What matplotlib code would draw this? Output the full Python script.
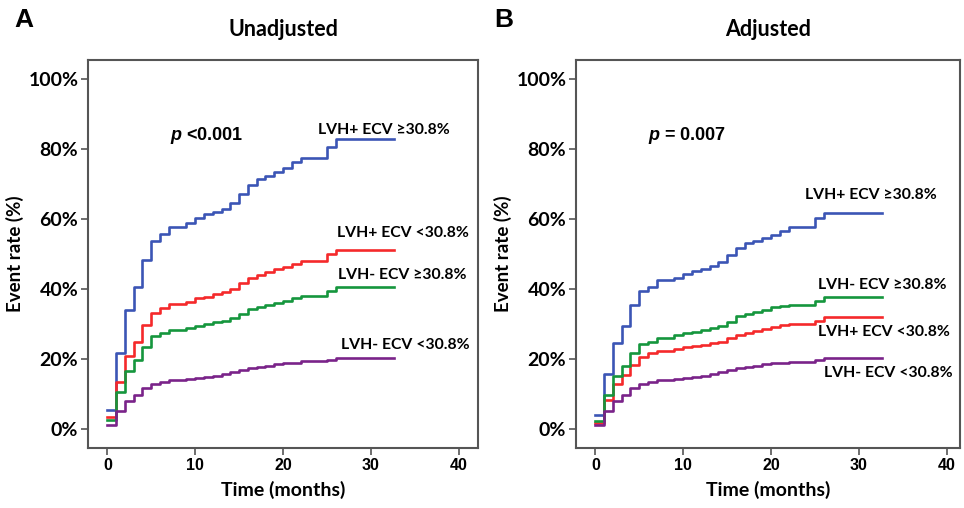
import matplotlib
matplotlib.use("Agg")
import matplotlib.pyplot as plt
from matplotlib.ticker import FuncFormatter

plt.rcParams["mathtext.fontset"] = "custom"
plt.rcParams["mathtext.it"] = "Liberation Sans:italic:bold"
plt.rcParams["mathtext.rm"] = "Liberation Sans:bold"

# step times (months) and end of follow-up
months = [0, 1, 2, 3, 4, 5, 6, 7, 9, 10, 11, 12, 13, 14, 15, 16, 17, 18, 19, 20, 21, 22, 25, 26]
end_month = 32.6

# Panel A: unadjusted event rates (%)
a_blue = [5.5, 21.9, 34.1, 40.6, 48.4, 53.8, 55.7, 57.9, 58.9, 60.3, 61.4, 62.1, 62.9, 64.6,
          67.1, 69.8, 71.5, 72.5, 73.4, 74.6, 76.3, 77.4, 80.7, 82.9]
a_red = [3.6, 13.4, 20.9, 25.0, 29.8, 33.3, 34.6, 35.8, 36.5, 37.4, 37.9, 38.6, 39.1, 40.1,
         41.7, 43.1, 44.1, 44.9, 45.7, 46.5, 47.2, 48.1, 50.1, 51.2]
a_green = [2.7, 10.6, 16.7, 19.8, 23.6, 26.7, 27.6, 28.4, 29.0, 29.6, 30.1, 30.6, 30.9, 31.7,
           32.9, 34.3, 35.0, 35.5, 36.2, 36.7, 37.4, 38.1, 39.5, 40.6]
a_purple = [1.2, 5.2, 8.2, 9.8, 11.7, 13.1, 13.6, 14.1, 14.4, 14.7, 15.0, 15.3, 15.7, 16.3,
            16.9, 17.4, 17.9, 18.2, 18.6, 18.9, 19.1, 19.5, 19.8, 20.5]

# Panel B: adjusted event rates (%)
b_blue = [4.1, 15.8, 24.8, 29.6, 35.5, 39.6, 40.8, 42.7, 43.1, 44.3, 45.2, 45.8, 46.7, 47.9,
          49.8, 51.7, 53.1, 53.8, 54.8, 55.5, 56.8, 57.7, 60.3, 61.9]
b_red = [1.7, 8.4, 13.1, 15.5, 18.4, 20.8, 21.7, 22.5, 22.9, 23.4, 23.8, 24.1, 24.6, 25.0,
         26.0, 27.0, 27.6, 28.1, 28.7, 29.3, 29.8, 30.1, 31.0, 32.2]
b_green = [2.5, 9.8, 15.2, 18.2, 21.7, 24.3, 25.0, 26.2, 27.0, 27.4, 27.9, 28.4, 28.9, 29.6,
           30.8, 32.5, 33.1, 33.6, 34.1, 34.9, 35.3, 35.5, 36.8, 37.9]
b_purple = [1.2, 5.3, 8.2, 9.8, 11.7, 13.1, 13.6, 14.1, 14.4, 14.8, 15.0, 15.3, 15.7, 16.3,
            17.0, 17.4, 17.9, 18.2, 18.6, 18.9, 19.1, 19.3, 19.8, 20.5]

groups = ["LVH+ ECV \u226530.8%", "LVH+ ECV <30.8%", "LVH- ECV \u226530.8%", "LVH- ECV <30.8%"]
colors = ["#3b55b5", "#f5292b", "#15963d", "#7a2389"]

# label anchor (month, %) per group
a_label_pos = [(31.5, 85.5), (33.7, 56.1), (33.6, 44.1), (33.9, 24.1)]
b_label_pos = [(31.4, 66.9), (32.9, 27.9), (32.6, 41.2), (33.3, 16.2)]

LABEL_FONT = "Lato"
NUM_FONT = "Liberation Sans"
FRAME = "#555555"


def draw_panel(ax, series, label_pos, ptext, px, title, xmax):
    for vals, col in zip(series, colors):
        ax.step(months + [end_month], vals + [vals[-1]], where="post",
                color=col, linewidth=1.9)
    for name, (tx, ty) in zip(groups, label_pos):
        ax.text(tx, ty, name, ha="center", va="center", fontsize=11.3,
                fontweight="bold", family=LABEL_FONT, color="black")
    ax.text(px, 84, ptext, ha="left", va="center",
            fontsize=13, fontweight="bold", family=NUM_FONT)

    ax.set_xlim(-2.2, xmax)
    ax.set_ylim(-5.4, 105.5)
    ax.set_xticks([0, 10, 20, 30, 40])
    ax.set_yticks([0, 20, 40, 60, 80, 100])
    ax.yaxis.set_major_formatter(FuncFormatter(lambda v, p: f"{v:.0f}%"))
    for lbl in ax.get_xticklabels():
        lbl.set_fontfamily(NUM_FONT)
        lbl.set_fontweight("bold")
        lbl.set_fontsize(11.5)
    for lbl in ax.get_yticklabels():
        lbl.set_fontfamily(LABEL_FONT)
        lbl.set_fontweight("bold")
        lbl.set_fontsize(14)
    ax.tick_params(axis="both", direction="out", length=5, width=1.2, color=FRAME, pad=2)
    for sp in ax.spines.values():
        sp.set_color(FRAME)
        sp.set_linewidth(1.5)

    ax.set_xlabel("Time (months)", fontsize=14, fontweight="bold", family=LABEL_FONT, labelpad=6)
    ax.set_ylabel("Event rate (%)", fontsize=13.5, fontweight="bold", family=LABEL_FONT, labelpad=3)
    ax.set_title(title, fontsize=15.5, fontweight="bold", family=LABEL_FONT, pad=17)


fig = plt.figure(figsize=(9.64, 5.08), dpi=100)
ax_a = fig.add_axes([0.0913, 0.1175, 0.4046, 0.7644])
ax_b = fig.add_axes([0.5975, 0.1175, 0.3983, 0.7644])

draw_panel(ax_a, [a_blue, a_red, a_green, a_purple], a_label_pos,
           r"$p$ <0.001", 7.1, "Unadjusted", 42.2)
draw_panel(ax_b, [b_blue, b_red, b_green, b_purple], b_label_pos,
           r"$p$ = 0.007", 6.0, "Adjusted", 41.5)

fig.text(0.025, 0.96, "A", fontsize=19, fontweight="bold", family=NUM_FONT, ha="center", va="center")
fig.text(0.523, 0.96, "B", fontsize=19, fontweight="bold", family=NUM_FONT, ha="center", va="center")

fig.savefig("out.png", dpi=100)
